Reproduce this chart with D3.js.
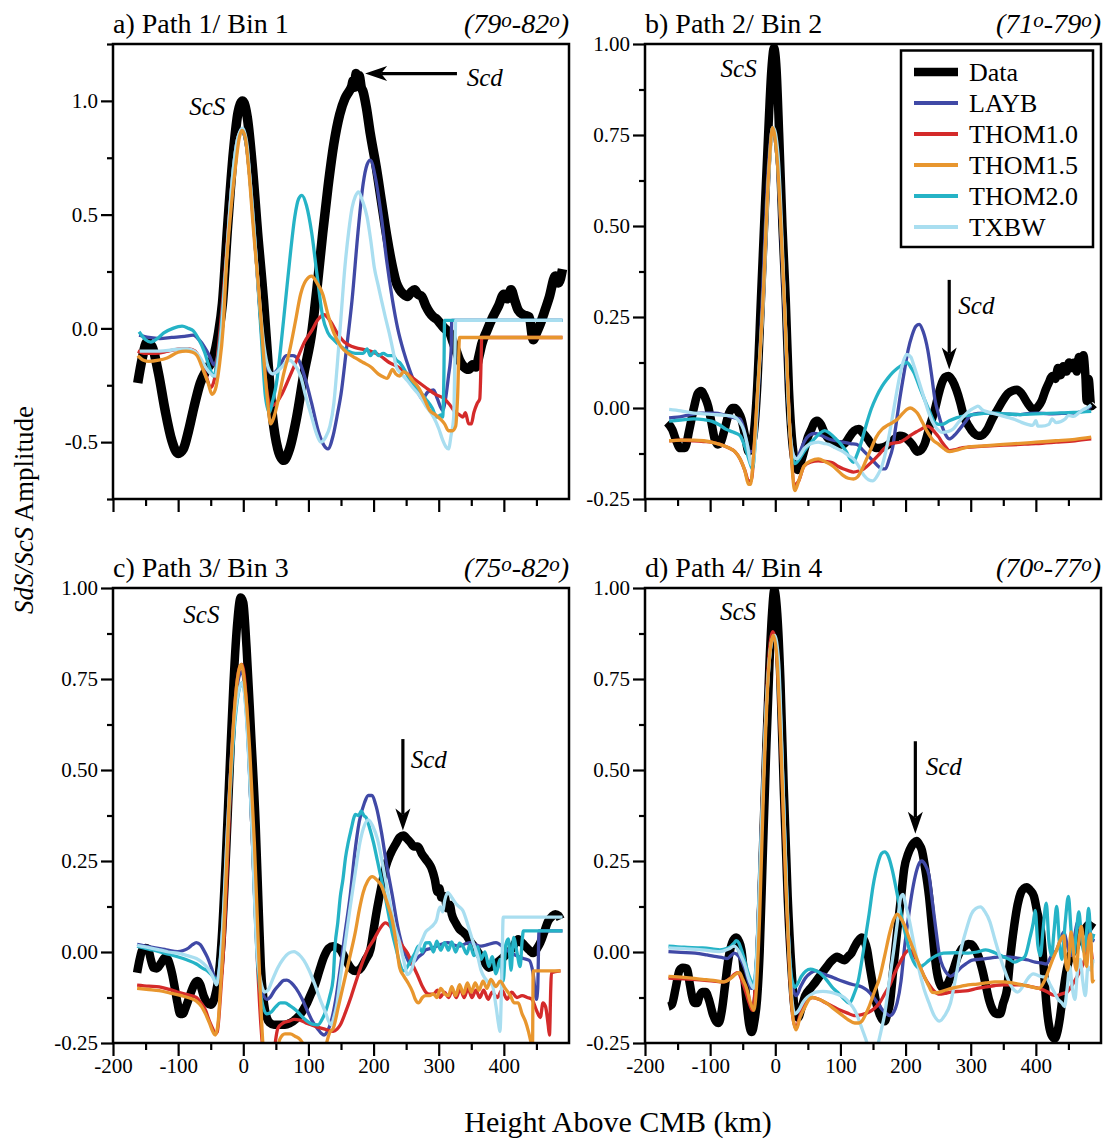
<!DOCTYPE html>
<html><head><meta charset="utf-8">
<script src="https://cdn.jsdelivr.net/npm/d3@7/dist/d3.min.js"></script>
<style>body{margin:0;background:#fff;} text{font-family:"Liberation Serif","Times New Roman",serif;fill:#000;}</style>
</head><body>
<script>
// ---------------- DATA ----------------
const seriesNames = ["Data","LAYB","THOM1.0","THOM1.5","THOM2.0","TXBW"];
const panelTitles = ["a) Path 1/ Bin 1","b) Path 2/ Bin 2","c) Path 3/ Bin 3","d) Path 4/ Bin 4"];
const panelRanges = [["79","82"],["71","79"],["75","82"],["70","77"]];
const xMajorTicks = [-200,-100,0,100,200,300,400];
const xMinorTicks = [-150,-50,50,150,250,350,450];
const yMajorTicksA = [-0.5,0,0.5,1.0];
const yMinorTicksA = [-0.75,-0.25,0.25,0.75,1.25];
const yMajorTicksB = [-0.25,0,0.25,0.5,0.75,1.0];
const yMinorTicksB = [-0.125,0.125,0.375,0.625,0.875];

// Panel a
const dataA = [[-162,-0.24],[-155,-0.13],[-148,-0.06],[-140,-0.08],[-130,-0.2],[-120,-0.36],[-110,-0.49],[-100,-0.55],[-92,-0.53],[-84,-0.45],[-76,-0.35],[-66,-0.24],[-56,-0.18],[-46,-0.13],[-38,-0.02],[-32,0.11],[-24,0.45],[-15,0.78],[-8,0.95],[-1,1.0],[6,0.93],[14,0.71],[22,0.42],[31,0.125],[38,-0.15],[45,-0.39],[53,-0.53],[62,-0.58],[71,-0.53],[82,-0.39],[93,-0.2],[105,-0.02],[114,0.2],[122,0.42],[130,0.62],[139,0.81],[148,0.94],[156,1.01],[162,1.04],[166,1.06],[169,1.09],[171,1.06],[173,1.12],[175,1.07],[178,1.11],[181,1.06],[184,1.04],[189,0.97],[195,0.855],[204,0.71],[212,0.56],[220,0.41],[229,0.27],[235,0.2],[240,0.17],[246,0.15],[252,0.14],[258,0.16],[263,0.17],[268,0.15],[274,0.14],[280,0.1],[286,0.07],[292,0.05],[297,0.04],[303,0.02],[309,0.0],[313,-0.01],[317,-0.02],[322,-0.06],[327,-0.1],[332,-0.14],[339,-0.17],[346,-0.18],[352,-0.16],[357,-0.17],[362,-0.12],[366,-0.07],[374,-0.01],[383,0.05],[392,0.1],[400,0.15],[405,0.13],[411,0.17],[417,0.12],[422,0.08],[430,0.06],[439,0.05],[445,-0.05],[450,-0.02],[456,0.02],[462,0.07],[470,0.14],[479,0.23],[484,0.2],[490,0.26]];
const laybA = [[-160,-0.03],[-145,-0.04],[-128,-0.045],[-110,-0.04],[-90,-0.035],[-77,-0.03],[-68,-0.05],[-60,-0.08],[-52,-0.12],[-45,-0.16],[-40,-0.13],[-34,0.0],[-26,0.3],[-16,0.68],[-8,0.84],[-2,0.87],[5,0.8],[12,0.6],[20,0.3],[28,0.0],[36,-0.17],[45,-0.2],[55,-0.17],[66,-0.12],[76,-0.12],[85,-0.14],[95,-0.22],[105,-0.33],[115,-0.45],[123,-0.51],[130,-0.53],[138,-0.47],[145,-0.37],[150,-0.29],[158,-0.1],[167,0.125],[176,0.42],[184,0.636],[190,0.72],[195,0.74],[203,0.66],[212,0.49],[220,0.3],[229,0.125],[237,0.0],[246,-0.1],[255,-0.18],[263,-0.24],[270,-0.29],[275,-0.31],[283,-0.28],[292,-0.27],[298,-0.31],[306,-0.36],[311,-0.3],[315,-0.21],[319,-0.1],[320,0.035],[490,0.035]];
const thom10A = [[-162,-0.1],[-150,-0.11],[-135,-0.11],[-115,-0.1],[-95,-0.09],[-83,-0.09],[-74,-0.1],[-66,-0.14],[-57,-0.21],[-50,-0.26],[-44,-0.22],[-37,-0.05],[-28,0.25],[-18,0.62],[-9,0.83],[-2,0.87],[5,0.8],[12,0.6],[20,0.3],[28,-0.02],[35,-0.25],[42,-0.34],[50,-0.33],[59,-0.29],[70,-0.22],[82,-0.14],[94,-0.06],[105,-0.01],[115,0.04],[124,0.06],[134,0.03],[144,-0.02],[155,-0.06],[167,-0.08],[180,-0.09],[195,-0.1],[210,-0.12],[224,-0.15],[238,-0.17],[252,-0.2],[266,-0.23],[280,-0.26],[295,-0.29],[309,-0.31],[318,-0.34],[326,-0.37],[332,-0.38],[337,-0.39],[341,-0.37],[346,-0.42],[350,-0.42],[354,-0.37],[359,-0.33],[363,-0.31],[365,-0.15],[366,-0.04],[490,-0.04]];
const thom15A = [[-162,-0.12],[-153,-0.14],[-145,-0.145],[-130,-0.14],[-117,-0.13],[-100,-0.105],[-88,-0.1],[-78,-0.105],[-71,-0.12],[-62,-0.18],[-54,-0.24],[-48,-0.29],[-43,-0.27],[-37,-0.17],[-31,0.0],[-26,0.27],[-18,0.55],[-12,0.71],[-6,0.84],[-2,0.87],[3,0.84],[8,0.71],[16,0.42],[25,0.125],[32,-0.15],[37,-0.31],[42,-0.42],[47,-0.39],[54,-0.31],[62,-0.2],[71,-0.1],[80,0.03],[88,0.15],[96,0.21],[105,0.23],[113,0.2],[122,0.15],[130,0.06],[139,-0.02],[150,-0.08],[161,-0.11],[172,-0.13],[184,-0.15],[196,-0.17],[207,-0.2],[216,-0.215],[221,-0.22],[225,-0.2],[229,-0.18],[234,-0.2],[240,-0.21],[246,-0.19],[252,-0.2],[260,-0.23],[269,-0.26],[278,-0.31],[286,-0.36],[295,-0.38],[303,-0.4],[309,-0.42],[315,-0.45],[321,-0.45],[326,-0.43],[329,-0.3],[332,-0.04],[490,-0.04]];
const thom20A = [[-160,-0.015],[-150,-0.05],[-142,-0.06],[-132,-0.045],[-122,-0.02],[-108,0.0],[-94,0.01],[-84,0.0],[-77,-0.01],[-68,-0.05],[-60,-0.1],[-52,-0.17],[-46,-0.21],[-40,-0.15],[-34,0.0],[-26,0.3],[-16,0.68],[-8,0.84],[-2,0.87],[5,0.8],[12,0.6],[20,0.3],[28,-0.05],[34,-0.3],[40,-0.37],[45,-0.32],[51,-0.24],[58,-0.07],[65,0.125],[72,0.32],[79,0.49],[85,0.57],[90,0.585],[97,0.54],[105,0.42],[113,0.24],[122,0.05],[130,-0.02],[139,-0.05],[150,-0.08],[161,-0.1],[172,-0.11],[180,-0.11],[184,-0.11],[190,-0.09],[195,-0.12],[202,-0.1],[207,-0.12],[215,-0.11],[222,-0.12],[230,-0.12],[235,-0.14],[240,-0.15],[249,-0.19],[258,-0.24],[269,-0.27],[280,-0.31],[290,-0.35],[297,-0.39],[303,-0.38],[306,-0.39],[308,-0.2],[309,0.035],[490,0.035]];
const txbwA = [[-159,-0.1],[-145,-0.1],[-128,-0.1],[-110,-0.095],[-95,-0.09],[-85,-0.09],[-75,-0.1],[-66,-0.13],[-58,-0.17],[-50,-0.2],[-43,-0.21],[-38,-0.13],[-33,0.0],[-26,0.3],[-16,0.68],[-8,0.84],[-1,0.88],[6,0.8],[13,0.55],[20,0.3],[25,0.12],[32,-0.08],[38,-0.17],[45,-0.2],[52,-0.19],[59,-0.17],[65,-0.15],[71,-0.14],[79,-0.16],[88,-0.21],[96,-0.3],[105,-0.39],[112,-0.46],[119,-0.5],[126,-0.48],[133,-0.43],[139,-0.33],[144,-0.17],[150,0.05],[156,0.27],[162,0.43],[167,0.53],[172,0.58],[177,0.6],[183,0.56],[190,0.49],[196,0.38],[201,0.27],[207,0.19],[212,0.125],[218,0.05],[224,-0.02],[230,-0.1],[235,-0.17],[243,-0.2],[252,-0.23],[260,-0.26],[269,-0.29],[280,-0.34],[292,-0.39],[300,-0.44],[306,-0.49],[311,-0.52],[315,-0.53],[319,-0.47],[323,-0.39],[325,-0.1],[326,0.035],[490,0.035]];

// Panel b
const dataB = [[-166,-0.04],[-158,-0.06],[-152,-0.09],[-146,-0.11],[-139,-0.11],[-132,-0.06],[-125,0.0],[-119,0.04],[-114,0.047],[-108,0.03],[-103,0.005],[-98,-0.04],[-93,-0.085],[-88,-0.1],[-84,-0.095],[-78,-0.06],[-71,-0.014],[-66,0.0],[-62,0.0],[-57,-0.01],[-52,-0.03],[-46,-0.08],[-41,-0.12],[-36,-0.1],[-33,-0.07],[-28,0.05],[-22,0.3],[-16,0.55],[-11,0.75],[-6,0.93],[-2,0.99],[2,0.93],[6,0.75],[11,0.5],[16,0.3],[21,0.05],[27,-0.11],[34,-0.17],[39,-0.15],[44,-0.12],[50,-0.08],[55,-0.06],[60,-0.04],[64,-0.035],[70,-0.045],[76,-0.07],[85,-0.09],[93,-0.1],[104,-0.1],[110,-0.09],[115,-0.076],[121,-0.063],[128,-0.058],[135,-0.07],[142,-0.085],[148,-0.1],[155,-0.11],[165,-0.108],[174,-0.1],[183,-0.085],[191,-0.076],[197,-0.078],[202,-0.085],[210,-0.1],[218,-0.12],[224,-0.115],[229,-0.1],[237,-0.05],[245,-0.004],[251,0.04],[256,0.07],[261,0.085],[266,0.088],[272,0.075],[278,0.05],[284,0.015],[289,-0.02],[297,-0.05],[305,-0.07],[311,-0.076],[316,-0.076],[325,-0.06],[333,-0.03],[341,-0.005],[349,0.02],[357,0.04],[365,0.048],[371,0.05],[378,0.04],[387,0.014],[393,0.0],[398,-0.004],[404,0.005],[409,0.02],[415,0.05],[420,0.07],[425,0.088],[430,0.08],[434,0.11],[438,0.09],[442,0.115],[447,0.1],[451,0.125],[455,0.11],[458,0.124],[463,0.1],[466,0.14],[470,0.12],[473,0.145],[476,0.09],[478,0.02],[481,0.08],[485,0.005],[489,0.01]];
const laybB = [[-163,-0.027],[-150,-0.025],[-135,-0.02],[-114,-0.014],[-93,-0.014],[-80,-0.018],[-71,-0.023],[-62,-0.027],[-54,-0.03],[-48,-0.06],[-44,-0.094],[-39,-0.12],[-35,-0.12],[-29,-0.05],[-20,0.3],[-11,0.65],[-4,0.77],[3,0.68],[13,0.3],[22,-0.05],[28,-0.13],[33,-0.14],[38,-0.12],[44,-0.094],[52,-0.075],[60,-0.07],[70,-0.075],[82,-0.085],[93,-0.09],[104,-0.094],[115,-0.098],[125,-0.1],[134,-0.115],[142,-0.13],[150,-0.145],[158,-0.16],[164,-0.167],[169,-0.167],[175,-0.14],[180,-0.11],[185,-0.05],[191,0.024],[198,0.1],[204,0.16],[210,0.2],[216,0.225],[221,0.23],[227,0.21],[234,0.16],[240,0.09],[245,0.024],[251,-0.02],[256,-0.05],[262,-0.075],[267,-0.085],[275,-0.075],[283,-0.058],[291,-0.04],[300,-0.02],[311,-0.015],[322,-0.014],[340,-0.015],[360,-0.017],[376,-0.018],[390,-0.015],[403,-0.014],[420,-0.016],[440,-0.015],[458,-0.014],[472,-0.008],[485,0.005]];
const thom10B = [[-163,-0.09],[-145,-0.088],[-125,-0.09],[-110,-0.092],[-98,-0.094],[-85,-0.1],[-71,-0.11],[-62,-0.12],[-54,-0.14],[-47,-0.17],[-41,-0.2],[-37,-0.2],[-32,-0.1],[-27,0.05],[-19,0.29],[-10,0.65],[-4,0.77],[3,0.68],[14,0.29],[23,-0.08],[30,-0.21],[36,-0.2],[44,-0.16],[55,-0.148],[66,-0.145],[77,-0.147],[87,-0.15],[96,-0.16],[104,-0.167],[112,-0.172],[120,-0.176],[128,-0.173],[136,-0.167],[147,-0.15],[158,-0.13],[167,-0.112],[175,-0.1],[183,-0.096],[191,-0.094],[199,-0.086],[207,-0.076],[216,-0.066],[224,-0.058],[230,-0.052],[234,-0.05],[240,-0.057],[245,-0.067],[251,-0.08],[256,-0.094],[262,-0.108],[267,-0.117],[275,-0.115],[285,-0.11],[294,-0.108],[310,-0.106],[330,-0.104],[350,-0.102],[376,-0.1],[400,-0.098],[431,-0.094],[460,-0.09],[485,-0.085]];
const thom15B = [[-163,-0.09],[-145,-0.088],[-125,-0.088],[-110,-0.09],[-95,-0.095],[-85,-0.1],[-71,-0.11],[-62,-0.12],[-54,-0.14],[-47,-0.17],[-41,-0.21],[-38,-0.21],[-33,-0.12],[-28,0.02],[-19,0.29],[-10,0.65],[-4,0.77],[3,0.68],[14,0.29],[23,-0.08],[30,-0.227],[36,-0.2],[44,-0.16],[55,-0.145],[66,-0.14],[77,-0.148],[87,-0.158],[96,-0.172],[104,-0.185],[112,-0.193],[120,-0.195],[126,-0.19],[131,-0.176],[139,-0.145],[147,-0.112],[155,-0.08],[164,-0.058],[172,-0.048],[180,-0.04],[188,-0.03],[196,-0.014],[202,-0.004],[207,0.0],[213,-0.005],[218,-0.014],[226,-0.04],[234,-0.067],[242,-0.088],[251,-0.1],[259,-0.112],[267,-0.12],[280,-0.115],[294,-0.108],[320,-0.104],[350,-0.1],[376,-0.097],[400,-0.094],[431,-0.09],[460,-0.086],[485,-0.08]];
const thom20B = [[-163,-0.036],[-145,-0.033],[-125,-0.03],[-110,-0.032],[-98,-0.036],[-86,-0.046],[-76,-0.058],[-65,-0.066],[-54,-0.076],[-48,-0.1],[-44,-0.12],[-39,-0.15],[-35,-0.167],[-31,-0.1],[-27,0.05],[-19,0.29],[-10,0.65],[-4,0.77],[3,0.68],[14,0.29],[22,-0.05],[30,-0.153],[37,-0.14],[44,-0.12],[52,-0.1],[60,-0.085],[68,-0.07],[76,-0.062],[84,-0.07],[93,-0.085],[101,-0.1],[109,-0.12],[115,-0.14],[120,-0.149],[125,-0.13],[131,-0.1],[139,-0.05],[147,-0.004],[155,0.03],[164,0.06],[172,0.08],[180,0.097],[188,0.11],[196,0.12],[202,0.125],[208,0.112],[213,0.097],[221,0.06],[229,0.024],[237,-0.01],[245,-0.04],[251,-0.045],[256,-0.045],[267,-0.035],[278,-0.027],[290,-0.022],[305,-0.018],[320,-0.015],[333,-0.014],[350,-0.016],[376,-0.018],[400,-0.016],[431,-0.014],[458,-0.012],[485,-0.009]];
const txbwB = [[-163,-0.004],[-145,-0.008],[-125,-0.014],[-110,-0.016],[-93,-0.018],[-78,-0.02],[-65,-0.023],[-56,-0.035],[-49,-0.058],[-43,-0.1],[-38,-0.15],[-35,-0.158],[-31,-0.1],[-27,0.03],[-19,0.28],[-10,0.64],[-3,0.77],[4,0.7],[14,0.3],[22,-0.05],[28,-0.13],[33,-0.14],[38,-0.13],[44,-0.112],[52,-0.1],[60,-0.095],[66,-0.094],[74,-0.097],[82,-0.1],[93,-0.11],[104,-0.12],[112,-0.13],[120,-0.14],[128,-0.16],[136,-0.185],[143,-0.197],[150,-0.2],[157,-0.185],[164,-0.158],[172,-0.1],[180,-0.023],[186,0.04],[191,0.088],[196,0.125],[202,0.147],[208,0.14],[213,0.115],[221,0.07],[229,0.024],[237,-0.02],[245,-0.05],[251,-0.062],[256,-0.067],[265,-0.065],[273,-0.058],[281,-0.04],[289,-0.023],[300,-0.005],[308,0.003],[311,0.005],[318,-0.005],[325,-0.01],[333,-0.014],[345,-0.02],[355,-0.025],[365,-0.03],[376,-0.038],[387,-0.045],[395,-0.048],[400,-0.035],[403,-0.05],[409,-0.05],[420,-0.045],[425,-0.03],[431,-0.04],[445,-0.03],[450,-0.02],[458,-0.023],[465,-0.015],[472,-0.005],[478,0.0],[485,0.009]];

// Panel c
const dataC = [[-163,-0.057],[-159,-0.02],[-155,0.006],[-150,0.011],[-146,0.008],[-142,-0.02],[-138,-0.043],[-133,-0.045],[-126,-0.03],[-120,-0.015],[-116,-0.02],[-112,-0.04],[-109,-0.062],[-105,-0.1],[-101,-0.14],[-97,-0.17],[-93,-0.17],[-88,-0.15],[-84,-0.13],[-78,-0.1],[-74,-0.085],[-70,-0.08],[-66,-0.09],[-61,-0.12],[-55,-0.14],[-50,-0.145],[-47,-0.14],[-42,-0.11],[-38,-0.07],[-33,0.04],[-27,0.25],[-21,0.5],[-15,0.74],[-9,0.91],[-4,0.974],[0,0.96],[5,0.837],[12,0.6],[19,0.35],[24,0.1],[27,-0.04],[31,-0.13],[36,-0.18],[41,-0.195],[47,-0.2],[55,-0.2],[64,-0.2],[72,-0.195],[81,-0.184],[90,-0.165],[98,-0.14],[104,-0.115],[110,-0.09],[117,-0.05],[124,-0.013],[131,0.01],[138,0.016],[144,0.012],[149,0.006],[155,-0.013],[161,-0.033],[167,-0.048],[172,-0.052],[177,-0.05],[181,-0.043],[188,-0.02],[195,0.006],[200,0.06],[206,0.124],[212,0.18],[218,0.23],[226,0.27],[235,0.3],[240,0.315],[246,0.32],[252,0.31],[257,0.3],[262,0.29],[268,0.29],[274,0.27],[280,0.255],[286,0.24],[289,0.23],[294,0.2],[298,0.165],[301,0.175],[304,0.15],[309,0.153],[313,0.12],[317,0.13],[320,0.104],[326,0.08],[331,0.065],[337,0.055],[343,0.045],[348,0.03],[354,0.016],[360,0.0],[365,-0.013],[371,-0.03],[377,-0.043],[385,-0.035],[394,-0.023],[402,-0.01],[411,0.006],[416,0.02],[422,0.035],[428,0.025],[433,0.016],[439,0.005],[445,-0.003],[451,0.01],[456,0.026],[462,0.055],[468,0.085],[474,0.098],[479,0.104],[484,0.1],[487,0.09]];
const laybC = [[-163,0.021],[-150,0.016],[-135,0.011],[-118,0.006],[-101,0.001],[-92,0.004],[-84,0.011],[-78,0.02],[-72,0.026],[-66,0.02],[-61,0.006],[-55,-0.015],[-49,-0.043],[-44,-0.07],[-41,-0.077],[-37,-0.05],[-32,0.05],[-24,0.35],[-14,0.65],[-6,0.76],[-2,0.77],[5,0.66],[13,0.35],[21,0.02],[28,-0.1],[36,-0.13],[41,-0.125],[48,-0.105],[55,-0.09],[62,-0.078],[67,-0.077],[74,-0.085],[81,-0.1],[90,-0.128],[98,-0.16],[106,-0.19],[115,-0.213],[120,-0.224],[124,-0.228],[130,-0.215],[135,-0.19],[142,-0.13],[149,-0.043],[156,0.05],[164,0.153],[171,0.27],[178,0.358],[186,0.41],[192,0.43],[197,0.43],[204,0.4],[212,0.33],[220,0.24],[229,0.153],[237,0.07],[246,0.006],[252,-0.02],[257,-0.033],[263,-0.025],[269,-0.013],[275,-0.005],[280,0.006],[288,0.01],[297,0.016],[305,0.022],[314,0.026],[322,0.02],[331,0.016],[340,0.022],[348,0.026],[357,0.02],[365,0.016],[375,0.02],[388,0.026],[398,0.015],[405,0.005],[411,-0.003],[420,-0.01],[430,-0.018],[439,-0.023],[445,-0.06],[450,-0.13],[452,-0.1],[454,0.058],[490,0.058]];
const thom10C = [[-163,-0.091],[-145,-0.094],[-129,-0.096],[-115,-0.102],[-101,-0.11],[-86,-0.117],[-72,-0.125],[-65,-0.14],[-58,-0.16],[-52,-0.19],[-47,-0.21],[-43,-0.225],[-40,-0.22],[-35,-0.12],[-29,0.05],[-22,0.35],[-14,0.65],[-6,0.78],[-2,0.79],[5,0.68],[13,0.35],[21,0.0],[27,-0.2],[32,-0.3],[38,-0.34],[45,-0.3],[53,-0.21],[61,-0.195],[70,-0.19],[78,-0.185],[87,-0.187],[96,-0.195],[104,-0.2],[115,-0.207],[127,-0.213],[138,-0.218],[144,-0.212],[149,-0.2],[157,-0.165],[166,-0.12],[175,-0.07],[184,-0.023],[192,0.01],[201,0.036],[210,0.065],[218,0.08],[226,0.07],[235,0.045],[243,0.02],[252,-0.003],[260,-0.035],[269,-0.07],[275,-0.095],[280,-0.11],[286,-0.116],[292,-0.116],[298,-0.105],[302,-0.125],[309,-0.11],[315,-0.125],[321,-0.105],[327,-0.125],[333,-0.1],[339,-0.125],[345,-0.1],[351,-0.125],[357,-0.105],[363,-0.125],[369,-0.105],[376,-0.13],[382,-0.11],[390,-0.125],[397,-0.105],[405,-0.13],[412,-0.11],[420,-0.125],[428,-0.12],[436,-0.125],[443,-0.13],[450,-0.16],[456,-0.18],[460,-0.14],[464,-0.15],[468,-0.2],[470,-0.228],[472,-0.1],[473,-0.057],[487,-0.052]];
const thom15C = [[-163,-0.1],[-145,-0.103],[-129,-0.106],[-112,-0.113],[-95,-0.12],[-80,-0.128],[-72,-0.135],[-64,-0.15],[-58,-0.17],[-52,-0.195],[-47,-0.218],[-43,-0.228],[-39,-0.2],[-35,-0.1],[-30,0.05],[-22,0.4],[-12,0.7],[-6,0.78],[-3,0.79],[3,0.72],[10,0.55],[17,0.3],[24,-0.02],[30,-0.25],[36,-0.34],[43,-0.35],[50,-0.3],[56,-0.24],[64,-0.225],[72,-0.225],[80,-0.232],[87,-0.24],[94,-0.26],[100,-0.29],[110,-0.33],[120,-0.3],[127,-0.255],[133,-0.22],[138,-0.21],[146,-0.15],[155,-0.08],[164,-0.01],[172,0.055],[178,0.115],[184,0.163],[191,0.195],[198,0.207],[205,0.198],[212,0.182],[220,0.14],[229,0.085],[235,0.02],[240,-0.043],[246,-0.065],[252,-0.082],[260,-0.11],[264,-0.13],[269,-0.14],[275,-0.125],[280,-0.12],[286,-0.12],[292,-0.115],[297,-0.125],[303,-0.1],[309,-0.115],[315,-0.12],[320,-0.095],[326,-0.12],[332,-0.09],[338,-0.115],[344,-0.085],[350,-0.11],[356,-0.085],[362,-0.105],[368,-0.08],[374,-0.1],[380,-0.075],[388,-0.095],[394,-0.08],[402,-0.1],[410,-0.12],[416,-0.14],[422,-0.14],[428,-0.17],[433,-0.19],[438,-0.22],[442,-0.25],[444,-0.26],[445,-0.052],[487,-0.052]];
const thom20C = [[-163,0.016],[-145,0.008],[-129,0.001],[-115,-0.006],[-101,-0.013],[-86,-0.022],[-72,-0.033],[-62,-0.045],[-55,-0.052],[-49,-0.062],[-44,-0.072],[-40,-0.08],[-36,-0.04],[-31,0.08],[-23,0.35],[-13,0.63],[-5,0.73],[-1,0.74],[5,0.65],[13,0.35],[21,0.0],[28,-0.13],[36,-0.17],[43,-0.165],[50,-0.15],[57,-0.14],[64,-0.14],[72,-0.148],[81,-0.16],[90,-0.177],[98,-0.19],[106,-0.198],[115,-0.2],[121,-0.185],[127,-0.16],[133,-0.12],[138,-0.072],[141,0.02],[145,0.08],[149,0.153],[153,0.2],[157,0.26],[161,0.3],[166,0.34],[170,0.37],[172,0.378],[177,0.375],[181,0.387],[185,0.375],[189,0.368],[194,0.34],[200,0.3],[206,0.25],[212,0.2],[218,0.15],[223,0.104],[229,0.05],[235,0.006],[240,-0.03],[246,-0.052],[252,-0.04],[258,-0.02],[263,-0.005],[269,0.016],[275,0.0],[280,0.025],[286,0.026],[292,0.0],[297,0.03],[303,0.005],[309,0.026],[315,0.005],[320,0.028],[326,0.0],[332,0.024],[337,0.016],[343,-0.005],[348,0.02],[354,-0.01],[360,0.015],[365,-0.02],[371,0.0],[377,-0.04],[382,-0.013],[388,-0.06],[394,-0.02],[399,-0.08],[403,0.02],[407,0.036],[411,-0.05],[415,0.04],[420,0.0],[425,-0.04],[428,0.03],[430,0.058],[490,0.058]];
const txbwC = [[-163,0.018],[-145,0.012],[-129,0.006],[-115,0.0],[-101,-0.003],[-86,-0.01],[-72,-0.018],[-62,-0.03],[-55,-0.043],[-49,-0.06],[-44,-0.08],[-41,-0.09],[-37,-0.05],[-32,0.06],[-24,0.35],[-14,0.63],[-5,0.73],[-1,0.74],[5,0.64],[13,0.35],[21,0.0],[28,-0.09],[33,-0.11],[38,-0.105],[44,-0.08],[53,-0.043],[61,-0.02],[70,-0.003],[78,0.001],[86,-0.008],[93,-0.023],[101,-0.05],[110,-0.09],[118,-0.13],[127,-0.17],[131,-0.19],[135,-0.2],[139,-0.18],[144,-0.14],[149,-0.07],[155,0.006],[163,0.11],[172,0.22],[179,0.3],[186,0.348],[192,0.363],[199,0.345],[206,0.31],[214,0.24],[223,0.153],[231,0.08],[240,0.026],[246,-0.02],[252,-0.062],[258,-0.05],[263,-0.02],[269,0.01],[275,0.035],[280,0.055],[286,0.065],[292,0.075],[297,0.09],[300,0.115],[303,0.124],[306,0.11],[309,0.14],[314,0.163],[320,0.15],[326,0.134],[331,0.125],[337,0.114],[342,0.09],[348,0.055],[354,0.02],[360,-0.013],[365,-0.05],[371,-0.072],[377,-0.085],[382,-0.09],[388,-0.15],[392,-0.2],[394,-0.218],[397,-0.05],[399,0.096],[490,0.096]];

// Panel d
const dataD = [[-164,-0.15],[-159,-0.145],[-153,-0.1],[-147,-0.05],[-142,-0.043],[-136,-0.045],[-131,-0.09],[-128,-0.12],[-124,-0.14],[-120,-0.14],[-116,-0.12],[-112,-0.11],[-107,-0.11],[-102,-0.13],[-96,-0.17],[-91,-0.19],[-87,-0.195],[-82,-0.16],[-77,-0.09],[-72,-0.02],[-66,0.026],[-60,0.04],[-56,0.03],[-52,0.006],[-48,-0.06],[-44,-0.14],[-40,-0.2],[-36,-0.22],[-32,-0.19],[-28,-0.13],[-24,0.0],[-19.5,0.25],[-14,0.55],[-9,0.79],[-5,0.93],[-1.5,0.995],[3,0.93],[8,0.74],[13,0.45],[19,0.153],[25,-0.05],[30,-0.16],[35,-0.18],[40,-0.155],[46,-0.12],[54,-0.1],[62,-0.082],[70,-0.062],[78,-0.043],[86,-0.025],[95,-0.013],[100,-0.018],[106,-0.023],[112,-0.012],[117,-0.003],[122,0.015],[127,0.03],[133,0.04],[137,0.03],[141,0.006],[145,-0.04],[149,-0.082],[155,-0.14],[160,-0.17],[164,-0.185],[168,-0.19],[172,-0.17],[176,-0.14],[181,-0.05],[187,0.055],[193,0.15],[198,0.23],[204,0.27],[209,0.29],[213,0.3],[217,0.305],[221,0.295],[225,0.28],[230,0.23],[236,0.153],[241,0.06],[247,-0.043],[252,-0.085],[258,-0.1],[264,-0.09],[269,-0.07],[275,-0.04],[280,-0.013],[285,0.005],[291,0.016],[296,0.022],[301,0.021],[306,0.01],[312,-0.013],[318,-0.05],[323,-0.09],[328,-0.13],[334,-0.16],[340,-0.17],[345,-0.17],[350,-0.14],[356,-0.1],[361,-0.01],[367,0.075],[372,0.13],[377,0.163],[382,0.175],[386,0.178],[391,0.17],[397,0.153],[402,0.11],[408,0.055],[412,-0.04],[416,-0.14],[420,-0.2],[424,-0.228],[429,-0.238],[433,-0.22],[437,-0.18],[442,-0.11],[448,-0.043],[453,-0.01],[459,0.006],[464,0.03],[470,0.055],[476,0.065],[481,0.075],[485,0.07],[489,0.065]];
const laybD = [[-164,0.001],[-145,-0.001],[-123,-0.003],[-105,-0.008],[-90,-0.013],[-80,-0.016],[-74,-0.018],[-68,-0.01],[-63,-0.003],[-57,-0.01],[-52,-0.023],[-46,-0.05],[-41,-0.082],[-37,-0.1],[-33,-0.1],[-29,-0.03],[-22,0.3],[-13,0.7],[-6,0.85],[-2,0.87],[4,0.8],[12,0.45],[20,0.05],[26,-0.09],[32,-0.12],[39,-0.095],[46,-0.072],[54,-0.058],[62,-0.052],[73,-0.06],[84,-0.067],[95,-0.075],[106,-0.082],[120,-0.09],[133,-0.096],[141,-0.105],[149,-0.12],[157,-0.14],[165,-0.16],[171,-0.17],[176,-0.175],[182,-0.165],[187,-0.14],[193,-0.08],[198,0.006],[204,0.09],[209,0.153],[215,0.21],[220,0.24],[225,0.25],[230,0.24],[236,0.21],[241,0.14],[247,0.055],[252,-0.01],[258,-0.043],[264,-0.06],[269,-0.067],[277,-0.058],[285,-0.043],[293,-0.032],[301,-0.023],[312,-0.02],[323,-0.018],[337,-0.015],[350,-0.013],[364,-0.015],[378,-0.018],[388,-0.022],[399,-0.028],[408,-0.03],[416,-0.033],[424,-0.01],[432,0.006],[437,0.03],[443,0.055],[448,0.02],[454,-0.01],[459,0.04],[465,0.085],[470,0.04],[476,0.02],[481,0.07],[486,0.036],[490,0.03]];
const thom10D = [[-164,-0.072],[-140,-0.074],[-112,-0.077],[-95,-0.08],[-79,-0.082],[-68,-0.07],[-62,-0.06],[-57,-0.057],[-52,-0.075],[-47,-0.1],[-40,-0.14],[-35,-0.16],[-31,-0.1],[-26,0.1],[-19,0.45],[-11,0.78],[-4,0.88],[1,0.85],[8,0.6],[15,0.25],[22,-0.05],[27,-0.18],[32,-0.21],[37,-0.18],[44,-0.14],[50,-0.13],[57,-0.125],[67,-0.13],[78,-0.14],[89,-0.15],[100,-0.16],[111,-0.168],[122,-0.175],[133,-0.172],[144,-0.165],[152,-0.155],[160,-0.14],[168,-0.115],[176,-0.09],[184,-0.055],[193,-0.023],[200,-0.002],[206,0.006],[213,-0.01],[220,-0.033],[228,-0.065],[236,-0.09],[244,-0.108],[252,-0.116],[260,-0.114],[269,-0.11],[283,-0.108],[296,-0.106],[310,-0.1],[323,-0.096],[337,-0.092],[350,-0.09],[364,-0.09],[378,-0.09],[392,-0.095],[405,-0.1],[418,-0.11],[426,-0.118],[432,-0.12],[440,-0.115],[448,-0.11],[456,-0.09],[465,-0.062],[473,-0.03],[478,0.0],[481,0.045],[484,0.02],[487,-0.03]];
const thom15D = [[-164,-0.067],[-140,-0.07],[-112,-0.075],[-95,-0.078],[-79,-0.082],[-68,-0.072],[-60,-0.06],[-55,-0.057],[-50,-0.075],[-44,-0.1],[-38,-0.14],[-33,-0.16],[-29,-0.1],[-24,0.1],[-18,0.45],[-10,0.78],[-3,0.87],[2,0.82],[9,0.55],[16,0.2],[22,-0.05],[27,-0.18],[32,-0.214],[38,-0.18],[46,-0.15],[52,-0.13],[57,-0.125],[67,-0.13],[78,-0.14],[89,-0.155],[100,-0.17],[111,-0.185],[122,-0.195],[128,-0.195],[133,-0.19],[139,-0.17],[144,-0.15],[152,-0.11],[160,-0.072],[168,-0.01],[176,0.055],[182,0.09],[187,0.104],[192,0.095],[198,0.075],[206,0.035],[214,-0.003],[222,-0.04],[230,-0.072],[236,-0.095],[241,-0.111],[248,-0.112],[256,-0.108],[270,-0.1],[283,-0.095],[296,-0.09],[310,-0.088],[323,-0.085],[337,-0.082],[350,-0.082],[364,-0.085],[378,-0.09],[392,-0.095],[405,-0.1],[413,-0.08],[421,-0.043],[427,-0.015],[432,0.006],[437,0.03],[443,0.045],[446,-0.03],[449,-0.05],[454,0.055],[459,-0.02],[462,-0.05],[466,0.03],[470,0.07],[475,-0.02],[478,-0.04],[481,0.03],[484,0.05],[487,-0.082],[489,-0.075]];
const thom20D = [[-164,0.016],[-140,0.013],[-112,0.011],[-95,0.008],[-85,0.006],[-74,0.01],[-68,0.016],[-63,0.025],[-60,0.031],[-56,0.025],[-52,0.006],[-46,-0.03],[-41,-0.062],[-37,-0.08],[-33,-0.09],[-29,-0.02],[-22,0.3],[-13,0.7],[-6,0.85],[-2,0.87],[4,0.8],[12,0.45],[20,0.05],[25,-0.07],[30,-0.097],[35,-0.085],[40,-0.067],[47,-0.052],[54,-0.047],[61,-0.05],[68,-0.057],[78,-0.075],[89,-0.1],[98,-0.115],[106,-0.13],[111,-0.138],[114,-0.14],[120,-0.12],[127,-0.082],[135,0.0],[144,0.104],[150,0.18],[157,0.24],[163,0.27],[168,0.275],[173,0.265],[179,0.23],[186,0.17],[193,0.104],[201,0.04],[209,-0.013],[215,-0.035],[220,-0.043],[228,-0.035],[236,-0.023],[247,-0.01],[258,-0.003],[277,-0.002],[296,-0.003],[310,0.0],[323,0.006],[337,-0.002],[350,-0.013],[359,-0.02],[367,-0.028],[375,-0.022],[383,-0.013],[391,0.04],[396,0.08],[399,0.114],[403,0.02],[407,-0.01],[411,0.06],[416,0.134],[420,0.03],[424,-0.01],[428,0.06],[432,0.125],[436,0.03],[440,-0.02],[445,0.08],[450,0.153],[454,0.06],[458,-0.01],[462,0.05],[466,0.11],[470,0.04],[474,0.0],[478,0.06],[481,0.12],[485,0.03],[489,0.05]];
const txbwD = [[-164,0.011],[-140,0.009],[-112,0.006],[-85,0.001],[-72,0.008],[-63,0.016],[-57,0.005],[-52,-0.013],[-46,-0.04],[-41,-0.072],[-37,-0.09],[-33,-0.1],[-29,-0.03],[-22,0.3],[-13,0.7],[-6,0.85],[-1,0.87],[5,0.8],[12,0.45],[20,0.05],[25,-0.12],[30,-0.17],[36,-0.16],[42,-0.14],[46,-0.13],[54,-0.118],[62,-0.11],[73,-0.108],[84,-0.11],[95,-0.116],[106,-0.125],[114,-0.14],[122,-0.16],[128,-0.185],[133,-0.21],[139,-0.24],[144,-0.27],[150,-0.3],[153,-0.3],[157,-0.26],[162,-0.22],[168,-0.17],[175,-0.08],[182,0.006],[188,0.09],[193,0.153],[196,0.158],[200,0.13],[206,0.085],[213,0.02],[220,-0.043],[228,-0.1],[236,-0.14],[244,-0.175],[252,-0.19],[260,-0.175],[269,-0.14],[277,-0.07],[285,0.006],[293,0.06],[301,0.104],[308,0.12],[315,0.124],[322,0.11],[329,0.085],[337,0.035],[345,-0.013],[353,-0.055],[361,-0.09],[367,-0.105],[372,-0.11],[380,-0.095],[388,-0.072],[396,-0.06],[404,-0.065],[410,-0.068],[416,-0.07],[422,-0.09],[428,-0.11],[434,-0.13],[440,-0.14],[444,-0.15],[448,-0.1],[452,-0.04],[456,-0.1],[460,-0.13],[464,-0.05],[468,-0.02],[472,-0.08],[476,-0.12],[480,-0.04],[484,-0.05],[488,-0.02]];

// ---------------- STYLE / LAYOUT ----------------
const colors = {"Data":"#000000","LAYB":"#4049a6","THOM1.0":"#d42a2a","THOM1.5":"#e8962e","THOM2.0":"#25b3c6","TXBW":"#a9def0"};
const drawOrder = ["Data","LAYB","THOM1.0","THOM2.0","TXBW","THOM1.5"];
const panelSeries = [
  {"Data":dataA,"LAYB":laybA,"THOM1.0":thom10A,"THOM1.5":thom15A,"THOM2.0":thom20A,"TXBW":txbwA},
  {"Data":dataB,"LAYB":laybB,"THOM1.0":thom10B,"THOM1.5":thom15B,"THOM2.0":thom20B,"TXBW":txbwB},
  {"Data":dataC,"LAYB":laybC,"THOM1.0":thom10C,"THOM1.5":thom15C,"THOM2.0":thom20C,"TXBW":txbwC},
  {"Data":dataD,"LAYB":laybD,"THOM1.0":thom10D,"THOM1.5":thom15D,"THOM2.0":thom20D,"TXBW":txbwD}
];
const hyph = f => (d => f(d).replace("\u2212","-"));
const PW = 456, PH = 455;
const layout = [
  {x0:113,y0:44, yDomain:[-0.75,1.25], yMaj:yMajorTicksA, yMin:yMinorTicksA, fmt:hyph(d3.format(".1f")), xLabels:false,
   scs:[-83,0.936], scd:[343,1.067], arrow:{type:"h", x1:328, x2:187, y:1.12}},
  {x0:645,y0:44, yDomain:[-0.25,1.0], yMaj:yMajorTicksB, yMin:yMinorTicksB, fmt:hyph(d3.format(".2f")), xLabels:false,
   scs:[-84,0.91], scd:[281,0.257], arrow:{type:"v", x:267, y1:0.352, y2:0.106}},
  {x0:113,y0:588, yDomain:[-0.25,1.0], yMaj:yMajorTicksB, yMin:yMinorTicksB, fmt:hyph(d3.format(".2f")), xLabels:true,
   scs:[-92,0.903], scd:[257,0.505], arrow:{type:"v", x:245, y1:0.585, y2:0.334}},
  {x0:645,y0:588, yDomain:[-0.25,1.0], yMaj:yMajorTicksB, yMin:yMinorTicksB, fmt:hyph(d3.format(".2f")), xLabels:true,
   scs:[-85,0.912], scd:[231,0.486], arrow:{type:"v", x:215, y1:0.579, y2:0.325}}
];

const svg = d3.select("body").append("svg").attr("width",1115).attr("height",1140);
svg.append("rect").attr("width",1115).attr("height",1140).attr("fill","#fff");

function arrowHead(g, tx, ty, angle) {
  const L = 22, Wd = 7.5, notch = 6;
  const ca = Math.cos(angle), sa = Math.sin(angle);
  const pt = (a,b) => [tx + a*ca - b*sa, ty + a*sa + b*ca];
  const pts = [pt(0,0), pt(-L, Wd), pt(-L+notch, 0), pt(-L, -Wd)];
  g.append("path").attr("d","M"+pts.map(p=>p.join(",")).join("L")+"Z").attr("fill","#000");
}

layout.forEach((P, i) => {
  const g = svg.append("g");
  const x = d3.scaleLinear().domain([-200,500]).range([P.x0, P.x0+PW]);
  const y = d3.scaleLinear().domain(P.yDomain).range([P.y0+PH, P.y0]);
  const clipId = "clip"+i;
  svg.append("defs").append("clipPath").attr("id",clipId)
    .append("rect").attr("x",P.x0).attr("y",P.y0).attr("width",PW).attr("height",PH);

  const line = d3.line().x(d=>x(d[0])).y(d=>y(d[1])).curve(d3.curveMonotoneX);
  const lg = g.append("g").attr("clip-path","url(#"+clipId+")");
  drawOrder.forEach(name => {
    lg.append("path").datum(panelSeries[i][name])
      .attr("d", line).attr("fill","none")
      .attr("stroke", colors[name])
      .attr("stroke-width", name==="Data" ? (i===0 ? 9.5 : 8.5) : 3.3)
      .attr("stroke-linejoin","round").attr("stroke-linecap","butt");
  });

  const xfmt = P.xLabels ? hyph(d3.format("d")) : (() => "");
  const xAxMaj = d3.axisBottom(x).tickValues(xMajorTicks).tickSize(13).tickSizeOuter(0).tickFormat(xfmt);
  const xAxMin = d3.axisBottom(x).tickValues(xMinorTicks).tickSize(7).tickSizeOuter(0).tickFormat("");
  const gxa = g.append("g").attr("transform",`translate(0,${P.y0+PH})`).call(xAxMaj);
  const gxb = g.append("g").attr("transform",`translate(0,${P.y0+PH})`).call(xAxMin);
  [gxa,gxb].forEach(ax => { ax.attr("font-family",null); ax.select(".domain").remove(); ax.selectAll("line").attr("stroke","#000").attr("stroke-width",2.2); });
  gxa.selectAll("text").attr("font-size",21).attr("dy","0.4em").attr("y",22);

  const yAxMaj = d3.axisLeft(y).tickValues(P.yMaj).tickSize(12).tickSizeOuter(0).tickFormat(P.fmt);
  const yAxMin = d3.axisLeft(y).tickValues(P.yMin).tickSize(6).tickSizeOuter(0).tickFormat("");
  const gya = g.append("g").attr("transform",`translate(${P.x0},0)`).call(yAxMaj);
  const gyb = g.append("g").attr("transform",`translate(${P.x0},0)`).call(yAxMin);
  [gya,gyb].forEach(ax => { ax.attr("font-family",null); ax.select(".domain").remove(); ax.selectAll("line").attr("stroke","#000").attr("stroke-width",2.2); });
  gya.selectAll("text").attr("font-size",21).attr("x",-15);

  g.append("rect").attr("x",P.x0).attr("y",P.y0).attr("width",PW).attr("height",PH)
    .attr("fill","none").attr("stroke","#000").attr("stroke-width",2.5);

  g.append("text").attr("x",P.x0).attr("y",P.y0-11).attr("font-size",28).text(panelTitles[i]);
  const rt = g.append("text").attr("x",P.x0+PW).attr("y",P.y0-11).attr("font-size",28)
    .attr("font-style","italic").attr("text-anchor","end");
  const r = panelRanges[i];
  rt.append("tspan").text("(" + r[0]);
  rt.append("tspan").attr("font-size",21).attr("dy",-6).text("o");
  rt.append("tspan").attr("dy",6).text("-" + r[1]);
  rt.append("tspan").attr("font-size",21).attr("dy",-6).text("o");
  rt.append("tspan").attr("dy",6).text(")");

  g.append("text").attr("x",x(P.scs[0])).attr("y",y(P.scs[1])).attr("font-size",25)
    .attr("font-style","italic").text("ScS");
  g.append("text").attr("x",x(P.scd[0])).attr("y",y(P.scd[1])).attr("font-size",25)
    .attr("font-style","italic").text("Scd");
  const A = P.arrow;
  if (A.type === "h") {
    g.append("line").attr("x1",x(A.x1)).attr("x2",x(A.x2)+16).attr("y1",y(A.y)).attr("y2",y(A.y))
      .attr("stroke","#000").attr("stroke-width",3.2);
    arrowHead(g, x(A.x2), y(A.y), Math.PI);
  } else {
    g.append("line").attr("x1",x(A.x)).attr("x2",x(A.x)).attr("y1",y(A.y1)).attr("y2",y(A.y2)-16)
      .attr("stroke","#000").attr("stroke-width",3.2);
    arrowHead(g, x(A.x), y(A.y2), Math.PI/2);
  }
});

const lgd = svg.append("g");
lgd.append("rect").attr("x",901).attr("y",50.5).attr("width",192).attr("height",196.5)
  .attr("fill","#fff").attr("stroke","#000").attr("stroke-width",2.5);
seriesNames.forEach((name, k) => {
  const yy = 72 + k*31;
  lgd.append("line").attr("x1",914).attr("x2",958).attr("y1",yy).attr("y2",yy)
    .attr("stroke",colors[name]).attr("stroke-width", name==="Data" ? 8.5 : 3.8);
  lgd.append("text").attr("x",969).attr("y",yy+9).attr("font-size",26).text(name);
});

const yl = svg.append("text").attr("transform","translate(33,510) rotate(-90)")
  .attr("text-anchor","middle").attr("font-size",27);
yl.append("tspan").attr("font-style","italic").text("SdS/ScS");
yl.append("tspan").text(" Amplitude");
svg.append("text").attr("x",618).attr("y",1132).attr("text-anchor","middle").attr("font-size",30)
  .text("Height Above CMB (km)");
</script>
</body></html>
